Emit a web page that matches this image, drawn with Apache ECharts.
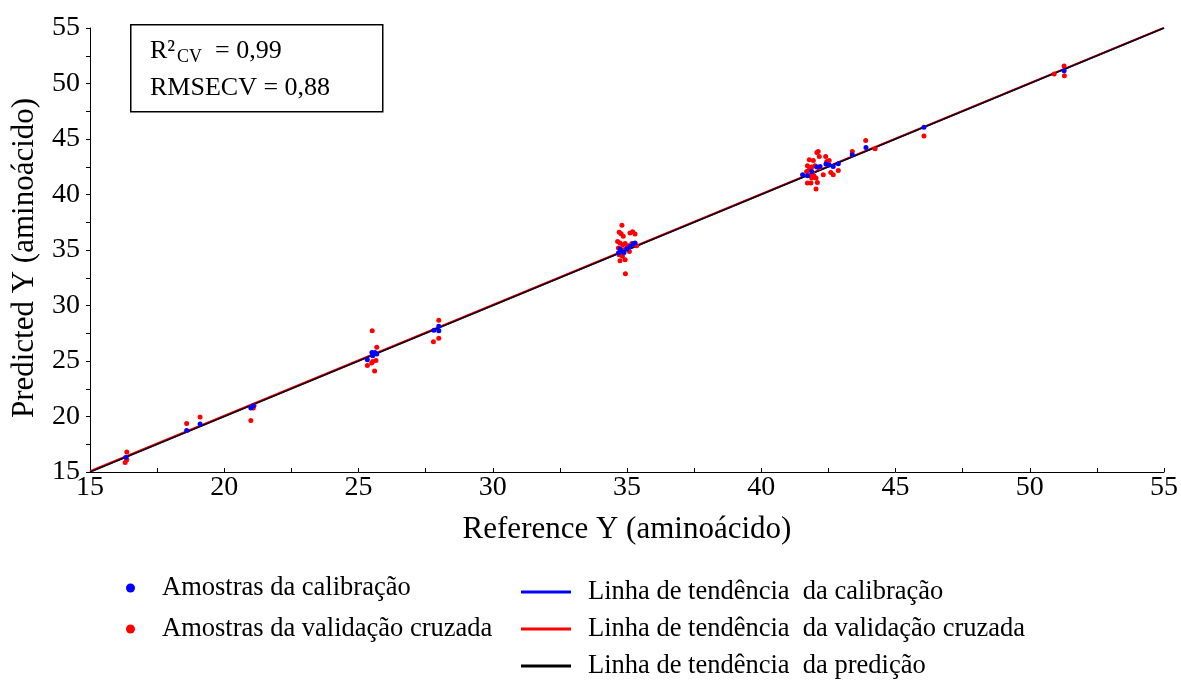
<!DOCTYPE html>
<html>
<head>
<meta charset="utf-8">
<script src="https://cdn.jsdelivr.net/npm/echarts@6/dist/echarts.min.js"></script>
<style>
  html, body { margin: 0; padding: 0; background: #ffffff; }
  #chart { width: 1181px; height: 680px; }
</style>
</head>
<body>
<div id="chart"></div>
<script>
// Calibration samples: reference vs predicted
const calRef  = [16.34, 18.60, 19.10, 20.99, 21.08, 25.33, 25.50, 25.61, 25.68, 25.53,
                 27.81, 27.99, 27.99, 34.68, 34.80, 34.99, 35.11, 35.23, 35.30, 34.74,
                 34.89, 41.54, 41.72, 41.88, 42.07, 42.19, 42.41, 42.53, 42.68, 42.87,
                 43.39, 43.90, 46.06, 51.28];
const calPred = [16.32, 18.75, 19.32, 20.77, 20.97, 25.12, 25.77, 25.77, 25.63, 25.48,
                 27.76, 27.73, 28.12, 34.73, 34.87, 35.09, 35.32, 35.57, 35.63, 35.09,
                 34.78, 41.78, 41.69, 42.08, 42.48, 42.53, 42.75, 42.66, 42.53, 42.77,
                 43.59, 44.24, 46.05, 51.15];

// Cross-validation samples: reference vs predicted
const cvRef  = [16.37, 16.37, 16.31, 18.60, 19.10, 20.99, 21.08, 21.02, 21.11,
                25.51, 25.68, 25.65, 25.53, 25.49, 25.33, 25.60, 27.99, 27.79, 27.99,
                34.81, 34.71, 34.78, 35.11, 35.21, 35.30, 34.86, 34.65, 34.74, 34.84,
                34.93, 35.05, 35.18, 35.36, 34.68, 34.99, 34.86, 35.09, 34.71, 34.83,
                34.74, 34.93, 34.94,
                42.12, 42.07, 41.94, 41.79, 42.16, 42.40, 42.53, 42.44, 41.72, 41.88,
                42.00, 41.79, 41.69, 41.91, 41.82, 41.96, 41.88, 42.04, 42.16, 42.31,
                42.59, 42.68, 42.87, 41.72, 41.85, 42.09, 42.04, 43.39, 43.89, 44.24,
                46.06, 50.91, 51.28, 51.29];
const cvPred = [16.80, 16.11, 15.86, 19.38, 19.95, 19.65, 20.77, 20.86, 20.97,
                27.73, 26.23, 25.05, 24.96, 24.82, 24.60, 24.10, 28.66, 26.74, 27.04,
                37.22, 36.59, 36.47, 36.53, 36.65, 36.44, 36.23, 35.77, 35.63, 35.48,
                35.58, 35.39, 35.58, 35.39, 35.18, 35.18, 35.03, 34.87, 34.58, 34.43,
                34.04, 34.13, 32.86,
                43.88, 43.79, 43.07, 43.14, 43.43, 43.43, 43.07, 42.98, 42.59, 42.48,
                42.59, 42.23, 42.08, 41.94, 41.69, 41.69, 41.49, 41.49, 42.39, 41.78,
                41.99, 41.78, 42.17, 41.04, 41.04, 41.09, 40.50, 43.88, 44.87, 44.13,
                45.27, 50.86, 51.58, 50.70];

// Fitted trend lines (end points)
const trendX     = [15, 55];
const calTrendY  = [15.02, 55.00];
const cvTrendY   = [15.08, 55.04];
const predTrendY = [15.00, 55.00];

// Axis ticks
const axisMin = 15, axisMax = 55, tickStep = 2.5, labelStep = 5;

const seriesNames = {
  cal: 'Amostras da calibração',
  cv: 'Amostras da validação cruzada',
  calLine: 'Linha de tendência  da calibração',
  cvLine: 'Linha de tendência  da validação cruzada',
  predLine: 'Linha de tendência  da predição'
};

const zip = (xs, ys) => xs.map((x, i) => [x, ys[i]]);
const FONT = 'Liberation Serif';

const axisCommon = {
  type: 'value',
  min: axisMin,
  max: axisMax,
  interval: tickStep,
  splitLine: { show: false },
  axisLine: { show: true, onZero: false, lineStyle: { color: '#000', width: 1 } },
  axisTick: { show: true, length: 4, lineStyle: { color: '#000', width: 1 } },
  nameLocation: 'middle',
  nameTextStyle: { fontFamily: FONT, fontSize: 31, color: '#000' }
};

const labelFmt = v => (Math.abs(v % labelStep) < 1e-9 ? String(v) : '');

const chart = echarts.init(document.getElementById('chart'), null, { renderer: 'canvas' });

chart.setOption({
  animation: false,
  backgroundColor: '#ffffff',
  grid: { left: 90, right: 17, top: 28, bottom: 208, containLabel: false },
  xAxis: Object.assign({}, axisCommon, {
    name: 'Reference Y (aminoácido)',
    nameGap: 42,
    axisTick: Object.assign({}, axisCommon.axisTick, { inside: true }),
    axisLabel: {
      formatter: labelFmt, margin: 2, showMinLabel: true, showMaxLabel: true,
      fontFamily: FONT, fontSize: 28, color: '#000'
    }
  }),
  yAxis: Object.assign({}, axisCommon, {
    name: 'Predicted Y (aminoácido)',
    nameGap: 50,
    nameTextStyle: Object.assign({}, axisCommon.nameTextStyle, { padding: [0, 16, 0, 0] }),
    axisLabel: {
      formatter: labelFmt, margin: 10, showMinLabel: true, showMaxLabel: true,
      fontFamily: FONT, fontSize: 28, color: '#000'
    }
  }),
  legend: [
    {
      orient: 'vertical',
      left: 126,
      top: 574,
      padding: 0,
      itemGap: 13,
      itemWidth: 9,
      itemHeight: 9,
      icon: 'circle',
      data: [seriesNames.cal, seriesNames.cv],
      textStyle: { fontFamily: FONT, fontSize: 26.5, color: '#000', lineHeight: 28, padding: [0, 0, 0, 22] }
    },
    {
      orient: 'vertical',
      left: 521,
      top: 578,
      padding: 0,
      itemGap: 9,
      itemWidth: 50,
      itemHeight: 3,
      icon: 'rect',
      data: [seriesNames.calLine, seriesNames.cvLine, seriesNames.predLine],
      textStyle: { fontFamily: FONT, fontSize: 26.5, color: '#000', lineHeight: 28, padding: [0, 0, 0, 12] }
    }
  ],
  series: [
    {
      name: seriesNames.calLine, type: 'line', data: zip(trendX, calTrendY),
      showSymbol: false, symbol: 'none', z: 2,
      lineStyle: { color: '#0000ff', width: 1.6 }, itemStyle: { color: '#0000ff' }
    },
    {
      name: seriesNames.cvLine, type: 'line', data: zip(trendX, cvTrendY),
      showSymbol: false, symbol: 'none', z: 3,
      lineStyle: { color: '#ff0000', width: 1.6 }, itemStyle: { color: '#ff0000' }
    },
    {
      name: seriesNames.predLine, type: 'line', data: zip(trendX, predTrendY),
      showSymbol: false, symbol: 'none', z: 4,
      lineStyle: { color: '#1a0008', width: 1.6 }, itemStyle: { color: '#000000' }
    },
    {
      name: seriesNames.cv, type: 'scatter', data: zip(cvRef, cvPred),
      symbol: 'circle', symbolSize: 5, z: 5,
      itemStyle: { color: '#ff0000', opacity: 1 }
    },
    {
      name: seriesNames.cal, type: 'scatter', data: zip(calRef, calPred),
      symbol: 'circle', symbolSize: 5, z: 6,
      itemStyle: { color: '#0000ff', opacity: 1 }
    }
  ],
  graphic: [
    {
      type: 'rect', left: 130, top: 24, z: 10,
      shape: { width: 252, height: 87 },
      style: { fill: '#ffffff', stroke: '#000', lineWidth: 1.5 }
    },
    {
      type: 'text', x: 150, y: 51, z: 11,
      style: { text: 'R²', fontFamily: FONT, fontSize: 26, fill: '#000', verticalAlign: 'middle' }
    },
    {
      type: 'text', x: 177, y: 57, z: 11,
      style: { text: 'CV', fontFamily: FONT, fontSize: 18, fill: '#000', verticalAlign: 'middle' }
    },
    {
      type: 'text', x: 215, y: 51, z: 11,
      style: { text: '= 0,99', fontFamily: FONT, fontSize: 26, fill: '#000', verticalAlign: 'middle' }
    },
    {
      type: 'text', x: 150, y: 88, z: 11,
      style: { text: 'RMSECV = 0,88', fontFamily: FONT, fontSize: 26, fill: '#000', verticalAlign: 'middle' }
    }
  ]
});
</script>
</body>
</html>
